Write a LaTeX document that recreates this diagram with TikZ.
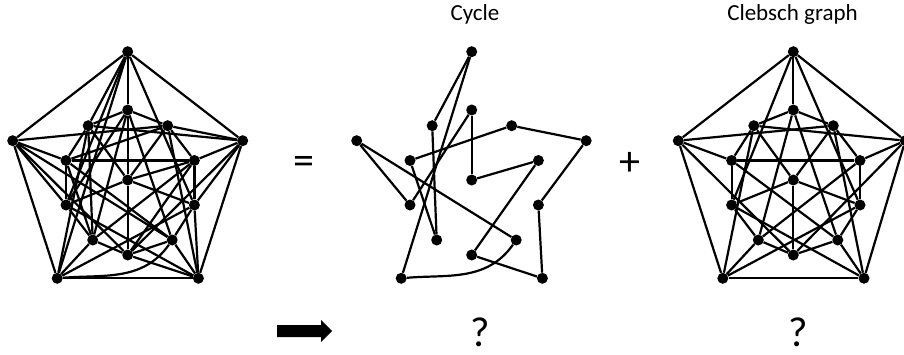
\documentclass[tikz,border=0pt]{standalone}
\usepackage{fontspec}
\setmainfont{Carlito}

\tikzset{
    vertex/.style={circle, fill=black, inner sep=0pt, minimum size=11pt},
    edge/.style={line width=2.2pt},
    title/.style={font=\fontsize{23}{27}\selectfont, anchor=base},
    sign/.style={font=\fontsize{42}{46}\selectfont, inner sep=0pt},
}

% 16 đỉnh, tọa độ so với đỉnh giữa (#1 = hoành độ đỉnh R)
\newcommand{\placevertices}[1]{%
    \foreach \name/\vx/\vy in {T/0/128.3, L/-115/39.3, R/#1/39.3,
        BL/-70.5/-98.3, BR/70.7/-98.3, a/0/70, b/-39.5/54.3, c/40/54.3,
        d/-61.7/19.5, e/66.7/19.5, C/0/0, f/-61.7/-25, g/66.7/-25,
        h/-35/-60, i/44.5/-60, j/0/-75} {
        \node[vertex] (\name) at (\vx,\vy) {};
    }
}
\newcommand{\clebschedges}{T/L, L/BL, BL/BR, BR/R, R/T, T/a, L/d, BL/h, BR/i, R/e,
    a/h, a/i, d/i, d/e, h/e, C/j, C/g, C/c, C/b, C/f, j/L, j/R, j/h, j/i,
    g/T, g/BL, g/i, g/e, c/BR, c/L, c/e, c/a, b/R, b/BL, b/a, b/d,
    f/T, f/BR, f/d, f/h}
\newcommand{\cycleedges}{T/b, b/h, h/d, d/c, c/R, R/g, g/BR, BR/j, j/e, e/C,
    C/a, a/f, f/L, L/i, BL/T}

\begin{document}
\begin{tikzpicture}[x=1pt, y=1pt]
\useasboundingbox (0,0) rectangle (904,354);

% ===== Đồ thị hợp =====
\begin{scope}[shift={(127.7,174)}, name prefix=U-]
    \placevertices{115}
    \foreach \p/\q in \clebschedges { \draw[edge] (\p) -- (\q); }
    \foreach \p/\q in \cycleedges { \draw[edge] (\p) -- (\q); }
    \draw[edge] (i) to[out=235, in=5] (BL);
\end{scope}

% ===== Chu trình =====
\begin{scope}[shift={(471.7,174)}, name prefix=X-]
    \placevertices{114.5}
    \foreach \p/\q in \cycleedges { \draw[edge] (\p) -- (\q); }
    \draw[edge] (i) to[out=235, in=5] (BL);
\end{scope}

% ===== Đồ thị Clebsch =====
\begin{scope}[shift={(793.3,174)}, name prefix=K-]
    \placevertices{112}
    \foreach \p/\q in \clebschedges { \draw[edge] (\p) -- (\q); }
\end{scope}

% ===== Nhãn =====
\node[title] (cycletitle) at (475,333) {Cycle};
\node[title] (clebschtitle) at (792.5,333) {Clebsch graph};
\node[sign] (equal) at (303.5,189) {=};
\node[sign] (plus) at (630,190) {+};
\node[sign] (askcycle) at (480,22) {?};
\node[sign] (askclebsch) at (798,22) {?};
\fill (277,17) -- (321,17) -- (321,12) -- (332,23) -- (321,34) -- (321,29) -- (277,29) -- cycle;

\end{tikzpicture}
\end{document}
